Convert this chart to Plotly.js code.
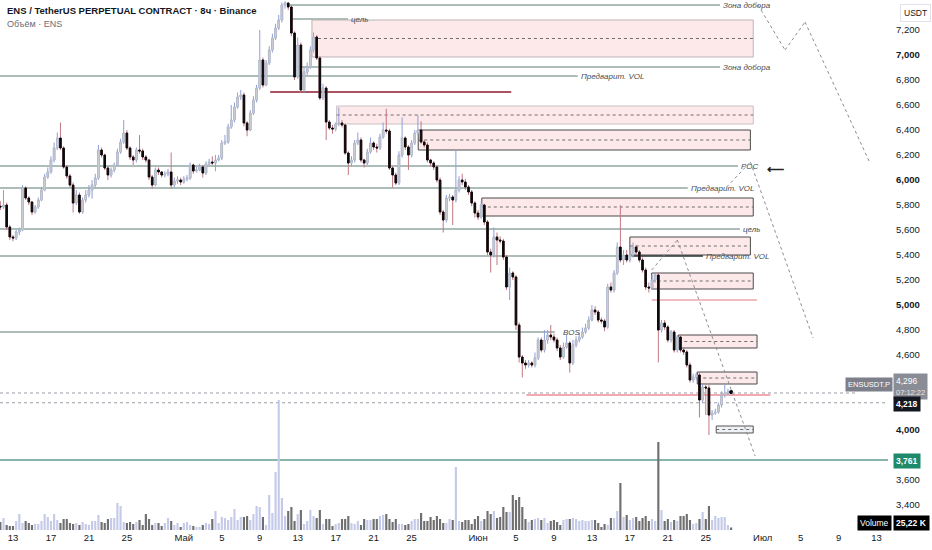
<!DOCTYPE html>
<html><head><meta charset="utf-8">
<script src="https://cdn.plot.ly/plotly-3.0.1.min.js"></script>
<style>body{margin:0;background:#fff}#c{width:932px;height:550px}</style>
</head><body><div id="c"></div>
<script>
// ---- data (8h candles, ENS/USDT perpetual) ----
const firstCandle = '2023-04-11 16:00';
const opens = [5.79,5.784,5.80,5.624,5.544,5.536,5.584,5.60,5.936,5.856,
5.824,5.744,5.784,5.84,5.92,6.024,6.064,6.16,6.256,6.336,
6.256,6.104,6.032,5.96,5.816,5.88,5.744,5.84,5.88,5.92,
5.96,6.016,6.24,6.20,6.096,6.04,6.08,6.12,6.224,6.304,
6.376,6.256,6.184,6.16,6.24,6.232,6.184,6.16,6.024,5.96,
6.08,6.064,6.04,6.048,6.064,5.96,5.992,6.00,5.984,6.008,
6.016,6.12,6.072,6.08,6.104,6.056,6.128,6.144,6.136,6.16,
6.176,6.296,6.304,6.424,6.48,6.584,6.664,6.68,6.456,6.40,
6.536,6.64,6.736,6.96,6.76,6.936,7.04,7.136,7.216,7.28,
7.40,7.416,7.384,7.176,6.824,7.08,6.72,6.864,6.904,7.04,
7.144,6.976,6.656,6.736,6.464,6.416,6.408,6.448,6.456,6.44,
6.216,6.136,6.16,6.296,6.32,6.16,6.136,6.224,6.296,6.264,
6.256,6.344,6.40,6.392,6.096,6.04,5.976,6.20,6.336,6.264,
6.20,6.296,6.376,6.40,6.304,6.28,6.16,6.136,6.104,6.00,
5.744,5.68,5.856,5.864,5.84,5.92,6.00,5.984,5.944,5.904,
5.816,5.736,5.704,5.80,5.664,5.424,5.40,5.544,5.52,5.512,
5.384,5.144,5.256,5.224,4.84,4.584,4.536,4.52,4.536,4.52,
4.576,4.72,4.64,4.72,4.76,4.744,4.72,4.656,4.584,4.664,
4.696,4.536,4.68,4.72,4.744,4.784,4.816,4.88,4.96,4.944,
4.88,4.872,4.824,5.144,5.12,5.256,5.464,5.36,5.40,5.36,
5.40,5.464,5.424,5.36,5.28,5.144,5.136,5.20,5.24,4.80,
4.856,4.824,4.72,4.784,4.64,4.744,4.64,4.624,4.52,4.40,
4.424,4.44,4.24,4.344,4.336,4.12,4.136,4.144,4.20,4.28,
4.296,4.304];
const highs = [5.83,5.92,5.82,5.64,5.56,5.60,5.62,5.96,5.95,5.87,
5.83,5.80,5.86,5.94,6.05,6.10,6.19,6.30,6.38,6.46,
6.27,6.12,6.05,5.98,5.92,5.90,5.86,5.92,5.96,6.00,
6.05,6.28,6.26,6.21,6.11,6.10,6.14,6.25,6.33,6.48,
6.40,6.27,6.20,6.26,6.36,6.25,6.20,6.17,6.04,6.10,
6.10,6.07,6.07,6.09,6.22,6.02,6.03,6.02,6.03,6.04,
6.14,6.13,6.11,6.13,6.12,6.15,6.17,6.19,6.20,6.20,
6.32,6.36,6.45,6.60,6.62,6.70,6.72,6.70,6.47,6.56,
6.67,6.76,7.20,6.98,6.96,7.07,7.17,7.25,7.32,7.42,
7.43,7.42,7.40,7.19,7.14,7.10,6.90,6.94,7.07,7.18,
7.16,6.99,6.77,6.75,6.48,6.44,6.46,6.58,6.48,6.45,
6.23,6.19,6.32,6.38,6.34,6.17,6.25,6.34,6.31,6.29,
6.37,6.46,6.57,6.41,6.11,6.06,6.23,6.50,6.35,6.28,
6.32,6.40,6.52,6.47,6.32,6.30,6.17,6.15,6.12,6.02,
5.76,5.88,5.89,5.88,6.24,6.03,6.05,6.01,5.96,5.92,
5.83,5.76,5.83,5.81,5.68,5.45,5.62,5.58,5.55,5.53,
5.40,5.30,5.27,5.24,4.86,4.60,4.56,4.56,4.55,4.62,
4.74,4.74,4.80,4.80,4.84,4.77,4.74,4.68,4.70,4.76,
4.71,4.72,4.75,4.78,4.82,4.85,4.91,5.00,4.99,4.96,
4.90,4.89,5.17,5.18,5.28,5.50,5.80,5.44,5.44,5.44,
5.50,5.48,5.44,5.38,5.30,5.18,5.24,5.26,5.26,4.88,
4.88,4.84,4.80,4.80,4.76,4.76,4.66,4.64,4.54,4.45,
4.46,4.46,4.37,4.36,4.36,4.16,4.17,4.22,4.31,4.36,
4.33,4.31];
const lows = [5.76,5.77,5.60,5.52,5.51,5.52,5.56,5.59,5.84,5.80,
5.72,5.73,5.77,5.83,5.91,6.01,6.05,6.14,6.24,6.24,
6.09,6.01,5.94,5.74,5.80,5.73,5.73,5.82,5.86,5.85,
5.94,6.00,6.18,6.08,6.00,6.02,6.06,6.11,6.21,6.29,
6.24,6.16,6.12,6.14,6.21,6.16,6.14,6.00,5.93,5.95,
6.04,6.02,6.02,6.03,5.93,5.94,5.97,5.96,5.97,5.99,
6.00,6.05,6.06,6.07,6.02,6.04,6.12,6.12,6.07,6.15,
6.16,6.28,6.29,6.41,6.46,6.57,6.64,6.43,6.35,6.39,
6.52,6.62,6.72,6.74,6.75,6.92,7.02,7.12,7.20,7.26,
7.37,7.36,7.15,6.80,6.81,6.70,6.70,6.84,6.89,7.02,
6.96,6.64,6.64,6.32,6.40,6.37,6.39,6.43,6.42,6.20,
6.04,6.11,6.14,6.28,6.14,6.10,6.12,6.21,6.24,6.22,
6.24,6.33,6.37,6.08,5.94,5.96,5.96,6.18,6.24,6.08,
6.18,6.28,6.36,6.29,6.26,6.14,6.11,6.08,5.98,5.72,
5.58,5.66,5.83,5.64,5.82,5.90,5.96,5.92,5.88,5.79,
5.70,5.68,5.69,5.64,5.40,5.26,5.38,5.32,5.49,5.36,
5.12,5.04,5.20,4.80,4.54,4.42,4.49,4.50,4.50,4.50,
4.56,4.62,4.62,4.69,4.72,4.70,4.63,4.56,4.57,4.65,
4.46,4.52,4.66,4.70,4.73,4.77,4.80,4.87,4.92,4.86,
4.85,4.79,4.81,5.10,5.10,5.24,5.34,5.32,5.34,5.34,
5.38,5.40,5.34,5.26,5.12,5.10,5.12,5.18,4.54,4.78,
4.80,4.70,4.70,4.62,4.62,4.62,4.60,4.50,4.38,4.38,
4.40,4.10,4.22,4.12,3.96,4.08,4.12,4.13,4.18,4.26,
4.28,4.29];
const closes = [5.784,5.80,5.624,5.544,5.536,5.584,5.60,5.936,5.856,5.824,
5.744,5.784,5.84,5.92,6.024,6.064,6.16,6.256,6.336,6.256,
6.104,6.032,5.96,5.816,5.88,5.744,5.84,5.88,5.92,5.96,
6.016,6.24,6.20,6.096,6.04,6.08,6.12,6.224,6.304,6.376,
6.256,6.184,6.16,6.24,6.232,6.184,6.16,6.024,5.96,6.08,
6.064,6.04,6.048,6.064,5.96,5.992,6.00,5.984,6.008,6.016,
6.12,6.072,6.08,6.104,6.056,6.128,6.144,6.136,6.16,6.176,
6.296,6.304,6.424,6.48,6.584,6.664,6.68,6.456,6.40,6.536,
6.64,6.736,6.96,6.76,6.936,7.04,7.136,7.216,7.28,7.40,
7.416,7.384,7.176,6.824,7.08,6.72,6.864,6.904,7.04,7.144,
6.976,6.656,6.736,6.464,6.416,6.408,6.448,6.456,6.44,6.216,
6.136,6.16,6.296,6.32,6.16,6.136,6.224,6.296,6.264,6.256,
6.344,6.40,6.392,6.096,6.04,5.976,6.20,6.336,6.264,6.20,
6.296,6.376,6.40,6.304,6.28,6.16,6.136,6.104,6.00,5.744,
5.68,5.856,5.864,5.84,5.92,6.00,5.984,5.944,5.904,5.816,
5.736,5.704,5.80,5.664,5.424,5.40,5.544,5.52,5.512,5.384,
5.144,5.256,5.224,4.84,4.584,4.536,4.52,4.536,4.52,4.576,
4.72,4.64,4.72,4.76,4.744,4.72,4.656,4.584,4.664,4.696,
4.536,4.68,4.72,4.744,4.784,4.816,4.88,4.96,4.944,4.88,
4.872,4.824,5.144,5.12,5.256,5.464,5.36,5.40,5.36,5.40,
5.464,5.424,5.36,5.28,5.144,5.136,5.20,5.24,4.80,4.856,
4.824,4.72,4.784,4.64,4.744,4.64,4.624,4.52,4.40,4.424,
4.44,4.24,4.344,4.336,4.12,4.136,4.144,4.20,4.28,4.296,
4.304,4.296];
// volume, thousands of ENS
const volumes = [80,120,50,40,40,90,160,70,90,70,
50,60,60,90,160,130,90,160,100,70,
110,110,70,60,70,50,80,60,50,90,
90,150,80,70,110,120,120,270,240,80,
70,80,60,80,100,50,160,110,50,70,
70,40,70,120,90,50,70,30,70,80,
50,40,30,30,50,70,60,110,190,70,
130,120,100,130,210,100,130,130,140,100,
160,240,230,130,50,350,170,580,1300,320,
140,190,230,90,160,200,60,90,200,140,
120,200,60,110,110,40,60,70,110,110,
140,70,60,90,50,110,
100,100,110,110,140,150,160,110,80,110,
60,60,50,60,90,110,110,170,90,90,
130,100,140,110,70,70,110,100,630,90,
80,100,100,60,110,140,90,110,190,160,
190,120,130,230,180,180,350,300,330,230,
110,80,100,110,120,100,120,70,90,100,
80,50,100,110,110,120,110,90,100,90,
90,100,
100,70,30,60,50,120,120,190,470,130,
150,100,120,130,90,120,140,90,110,
90,880,200,90,110,80,100,90,140,140,
160,100,60,70,110,180,110,240,100,140,
120,130,130,50,25.22];
const xTickDays = [0,4,8,12,18,22,26,30,34,38,42,49,53,57,61,65,69,73,79,83,87,91];
const xTickLabels = ['13','17','21','25','Май','5','9','13','17','21','25','Июн','5','9','13','17','21','25','Июл','5','9','13'];
// price ticks (4,400 / 4,200 / 3,800 sit under the price tags on the reference)
const yTickVals = [3.4,3.6,4.0,4.6,4.8,5.0,5.2,5.4,5.6,5.8,6.0,6.2,6.4,6.6,6.8,7.0,7.2];
const yTickLabels = ['3,400','3,600','<b>4,000</b>','4,600','4,800','<b>5,000</b>','5,200','5,400','5,600','5,800','<b>6,000</b>','6,200','6,400','6,600','6,800','<b>7,000</b>','7,200'];

// ---- helpers ----
const T0 = Date.UTC(2023,3,13);
function fmt(ms){const d=new Date(ms);const p=n=>String(n).padStart(2,'0');
  return d.getUTCFullYear()+'-'+p(d.getUTCMonth()+1)+'-'+p(d.getUTCDate())+' '+p(d.getUTCHours())+':'+p(d.getUTCMinutes());}
const day = d => fmt(T0 + d*86400000);
const t0c = Date.parse(firstCandle.replace(' ','T')+':00Z');
const times = closes.map((_,i)=>fmt(t0c + i*8*3600000));
const bodyHi = opens.map((o,i)=>Math.max(o,closes[i]));
const bodyLo = opens.map((o,i)=>Math.min(o,closes[i]));
const volColors = closes.map((c,i)=> c>=opens[i] ? '#c5cae9' : '#6f6f6f');

const traces = [
 {type:'candlestick', x:times, open:opens, high:highs, low:lows, close:closes,
  increasing:{line:{color:'#8e9fdc',width:1}, fillcolor:'#8e9fdc'},
  decreasing:{line:{color:'#c27884',width:1}, fillcolor:'#c27884'},
  hoverinfo:'skip', whiskerwidth:0},
 {type:'candlestick', x:times, open:opens, high:bodyHi, low:bodyLo, close:closes,
  increasing:{line:{color:'#b9bcc4',width:1}, fillcolor:'#d6d8de'},
  decreasing:{line:{color:'#0b0b0b',width:1}, fillcolor:'#0b0b0b'},
  hoverinfo:'skip', whiskerwidth:0},
 {type:'bar', x:times, y:volumes, yaxis:'y2', marker:{color:volColors}, width:8*3600000*0.68, hoverinfo:'skip'},
 {type:'scatter', mode:'markers', x:[times[times.length-1]], y:[closes[closes.length-2]], marker:{color:'#000',size:4}, hoverinfo:'skip'}
];

const LVL = '#5b7b73';
const shapes = [];
function hl(d0,d1,y,color,width,dash){shapes.push({type:'line',xref:'x',yref:'y',x0:day(d0),x1:day(d1),y0:y,y1:y,line:{color:color,width:width||1,dash:dash||'solid'},layer:'below'});}
function zone(d0,d1,y0,y1,border){
  shapes.push({type:'rect',xref:'x',yref:'y',x0:day(d0),x1:day(d1),y0:y0,y1:y1,fillcolor:'rgba(242,120,132,0.17)',line:{color:border,width:1},layer:'below'});
  hl(d0,d1,(y0+y1)/2,'#6e6e6e',1,'3px,3px');
}
function dots(pts){for(let k=0;k<pts.length-1;k++){shapes.push({type:'line',xref:'x',yref:'y',x0:day(pts[k][0]),y0:pts[k][1],x1:day(pts[k+1][0]),y1:pts[k+1][1],line:{color:'#8a8d96',width:1,dash:'dot'},layer:'above'});}}

hl(28.9,74.5,7.40,LVL);
hl(29.2,35.3,7.288,LVL);
zone(31.5,78.0,6.984,7.28,'#bdb3b5');
hl(30.2,74.5,6.904,LVL);
hl(-3,59.5,6.832,LVL);
hl(27.1,52.5,6.704,'#8e1b2c',1.5);
zone(34.1,78.0,6.448,6.592,'#c9c0c2');
zone(42.7,77.7,6.24,6.40,'#4a4a4a');
hl(-3,76.4,6.112,LVL);
hl(-3,71.1,5.936,LVL);
zone(49.4,78.0,5.712,5.856,'#4a4a4a');
hl(-3,76.6,5.608,LVL);
zone(65.0,77.7,5.40,5.544,'#4a4a4a');
hl(-3,72.7,5.392,LVL);
hl(65.3,72.7,5.392,'#111',1.2);
zone(67.3,78.0,5.128,5.256,'#4a4a4a');
hl(67.3,78.4,5.04,'#e07a86',1);
hl(-3,57.1,4.784,LVL);
zone(70.1,78.4,4.656,4.76,'#4a4a4a');
zone(72.1,78.4,4.368,4.464,'#4a4a4a');
hl(54.1,79.8,4.28,'#f3a9b1',2);
// small box near lows
shapes.push({type:'rect',xref:'x',yref:'y',x0:day(74.1),x1:day(78.0),y0:3.976,y1:4.032,fillcolor:'#eef1f6',line:{color:'#555',width:1},layer:'below'});
hl(74.1,78.0,4.004,'#6e6e6e',1,'3px,3px');
// price lines
shapes.push({type:'line',xref:'paper',yref:'y',x0:0,x1:856/888,y0:4.296,y1:4.296,line:{color:'#9a9da6',width:1,dash:'dot'},layer:'below'});
shapes.push({type:'line',xref:'paper',yref:'y',x0:0,x1:1,y0:4.218,y1:4.218,line:{color:'#9a9da6',width:1,dash:'dot'},layer:'below'});
shapes.push({type:'line',xref:'paper',yref:'y',x0:0,x1:1,y0:3.761,y1:3.761,line:{color:'#5f9d8c',width:1.5},layer:'below'});
// projections
dots([[67.3,5.28],[70.0,5.52],[78.2,3.792]]);
dots([[75.2,5.944],[77.7,6.144],[84.3,4.736]]);
dots([[78.5,7.40],[81.35,7.04],[83.46,7.264],[90.3,6.136]]);

const LBL = {family:'Liberation Sans, Arial, sans-serif', size:8, color:'#4a4a4a'};
const annotations = [];
function lab(d,y,t){annotations.push({xref:'x',yref:'y',x:day(d),y:y,text:'<i>'+t+'</i>',showarrow:false,xanchor:'left',yanchor:'middle',font:LBL,xshift:1});}
lab(74.5,7.40,'Зона добора');
lab(35.3,7.288,'цель');
lab(74.5,6.904,'Зона добора');
lab(59.5,6.832,'Предварит. VOL');
lab(76.4,6.112,'POC');
lab(71.1,5.936,'Предварит. VOL');
lab(76.6,5.608,'цель');
lab(72.7,5.392,'Предварит. VOL');
lab(57.6,4.784,'BOS');
annotations.push({xref:'x',yref:'y',x:day(80.3),y:6.088,text:'<b>⟵</b>',showarrow:false,font:{size:12,color:'#222'}});
// header
annotations.push({xref:'paper',yref:'paper',x:5/888,y:1-11/530,xanchor:'left',yanchor:'middle',showarrow:false,
  text:'<b>ENS / TetherUS PERPETUAL CONTRACT · 8ч · Binance</b>',font:{family:'Liberation Sans, Arial, sans-serif',size:9.5,color:'#131722'}});
annotations.push({xref:'paper',yref:'paper',x:5/888,y:1-24/530,xanchor:'left',yanchor:'middle',showarrow:false,
  text:'Объём · ENS',font:{family:'Liberation Sans, Arial, sans-serif',size:9,color:'#6a6d78'}});
// right side labels
const TAG = {family:'Liberation Sans, Arial, sans-serif', size:8.5, color:'#fff'};
annotations.push({xref:'paper',yref:'paper',x:1.013,y:1-13/530,xanchor:'left',yanchor:'middle',showarrow:false,text:'USDT',
  font:{family:'Liberation Sans, Arial, sans-serif',size:8.5,color:'#131722'},bordercolor:'#e0e3eb',borderwidth:1,borderpad:3,bgcolor:'#fff'});
annotations.push({xref:'paper',yref:'y',x:893/888,y:4.366,xanchor:'right',yanchor:'middle',showarrow:false,text:'ENSUSDT.P',
  font:{family:'Liberation Sans, Arial, sans-serif',size:7.5,color:'#fff'},bgcolor:'#7d808a',borderpad:2});
annotations.push({xref:'paper',yref:'y',x:893/888,y:4.352,xanchor:'left',yanchor:'middle',showarrow:false,
  text:'4,296<br><span style="font-size:7.5px;color:#e6e6e6">07:12:22</span>',font:TAG,bgcolor:'#8a8d95',borderpad:2,align:'left'});
annotations.push({xref:'paper',yref:'y',x:893/888,y:4.212,xanchor:'left',yanchor:'middle',showarrow:false,text:'<b>4,218</b>',font:TAG,bgcolor:'#131722',borderpad:2});
annotations.push({xref:'paper',yref:'y',x:893/888,y:3.752,xanchor:'left',yanchor:'middle',showarrow:false,text:'<b>3,761</b>',font:TAG,bgcolor:'#1f8a6b',borderpad:2});
annotations.push({xref:'paper',yref:'paper',x:892/888,y:7/530,xanchor:'right',yanchor:'middle',showarrow:false,text:'Volume',font:TAG,bgcolor:'#000',borderpad:2});
annotations.push({xref:'paper',yref:'paper',x:893/888,y:7/530,xanchor:'left',yanchor:'middle',showarrow:false,text:'<b>25,22 K</b>',font:TAG,bgcolor:'#000',borderpad:2});

const layout = {
  width:932, height:550, margin:{l:0,r:44,t:0,b:20},
  paper_bgcolor:'#fff', plot_bgcolor:'#fff', showlegend:false, dragmode:false,
  font:{family:'Liberation Sans, Arial, sans-serif', size:10, color:'#131722'},
  xaxis:{type:'date', range:[day(-1.37), day(92.2)], tickvals:xTickDays.map(day), ticktext:xTickLabels,
    showgrid:false, zeroline:false, showline:false, ticks:'', rangeslider:{visible:false},
    tickfont:{size:9.5,color:'#131722'}, fixedrange:true},
  yaxis:{side:'right', range:[3.20,7.44], tickvals:yTickVals, ticktext:yTickLabels, showgrid:false, zeroline:false,
    showline:false, ticks:'', ticklabelstandoff:7, tickfont:{size:9.5,color:'#131722'}, fixedrange:true},
  yaxis2:{overlaying:'y', range:[0,5300], visible:false, fixedrange:true},
  shapes:shapes, annotations:annotations, bargap:0.2
};
Plotly.newPlot('c', traces, layout, {displayModeBar:false, staticPlot:true});
</script></body></html>
